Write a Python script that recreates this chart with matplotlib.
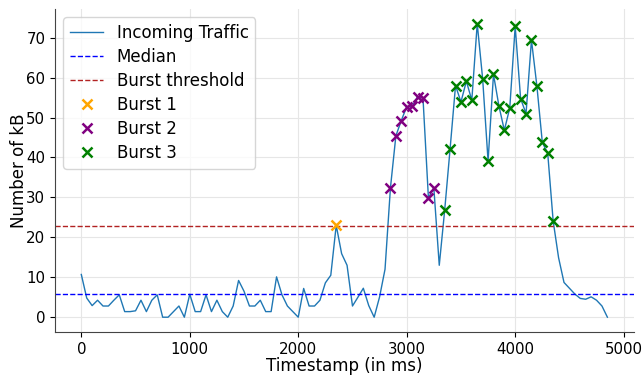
import numpy as np
import matplotlib.pyplot as plt

# timestamps in ms, one sample every 50 ms
timestamps = np.arange(0, 4900, 50)
traffic = [10.7, 4.8, 2.9, 4.25, 2.8, 2.8, 4.25, 5.6, 1.4, 1.4,
           1.6, 4.25, 1.4, 4.25, 5.6, 0, 0, 1.4, 2.8, 0,
           5.75, 1.4, 1.4, 5.6, 1.4, 4.25, 1.4, 0, 2.8, 9.2,
           6.5, 2.8, 2.8, 4.25, 1.4, 1.4, 10.1, 5.6, 2.8, 1.4,
           0, 7.2, 2.8, 2.8, 4.25, 8.6, 10.5, 23.0, 15.9, 13.0,
           2.8, 5.0, 7.25, 2.9, 0, 5.1, 12.0, 32.4, 45.4, 49.25,
           52.7, 52.8, 55.2, 54.9, 29.9, 32.4, 13.0, 26.8, 42.2, 58.0,
           53.9, 59.1, 54.3, 73.5, 59.7, 39.1, 60.8, 52.9, 46.8, 52.4,
           72.8, 54.7, 51.0, 69.4, 57.9, 43.8, 41.0, 24.1, 14.9, 8.7,
           7.25, 5.8, 4.7, 4.5, 5.1, 4.25, 2.8, 0]
traffic = np.array(traffic)

median = 5.8
threshold = 22.8

# burst timestamps
burst1 = [2350]
burst2 = [2850, 2900, 2950, 3000, 3050, 3100, 3150, 3200, 3250]
burst3 = list(range(3350, 4400, 50))
bursts = [burst1, burst2, burst3]
burst_colors = ['orange', 'purple', 'green']

plt.rcParams['font.family'] = ['DejaVu Sans']
fig = plt.figure(figsize=(6.44, 3.75), dpi=100)
ax = fig.add_axes([0.0854, 0.115, 0.8986, 0.861])

ax.plot(timestamps, traffic, color='tab:blue', lw=1, label='Incoming Traffic')
ax.axhline(median, color='blue', ls='--', lw=1, label='Median')
ax.axhline(threshold, color='firebrick', ls='--', lw=1, label='Burst threshold')

for i, b in enumerate(bursts):
    idx = [list(timestamps).index(t) for t in b]
    ax.plot(timestamps[idx], traffic[idx], 'x', color=burst_colors[i],
            ms=7.5, mew=1.8, ls='none', label='Burst %d' % (i + 1))

ax.grid(True, color='#e6e6e6', lw=0.8)
ax.set_axisbelow(True)
ax.spines['top'].set_visible(False)
ax.spines['right'].set_visible(False)
ax.spines['left'].set_color('#444444')
ax.spines['bottom'].set_color('#444444')
ax.tick_params(labelsize=10.8)
ax.set_xlabel('Timestamp (in ms)', fontsize=12, labelpad=0)
ax.set_ylabel('Number of kB', fontsize=12, labelpad=-1)
ax.set_yticks([0, 10, 20, 30, 40, 50, 60, 70])
ax.legend(loc='upper left', fontsize=12, borderaxespad=0.5, labelspacing=0.36)

fig.savefig('out.png')
